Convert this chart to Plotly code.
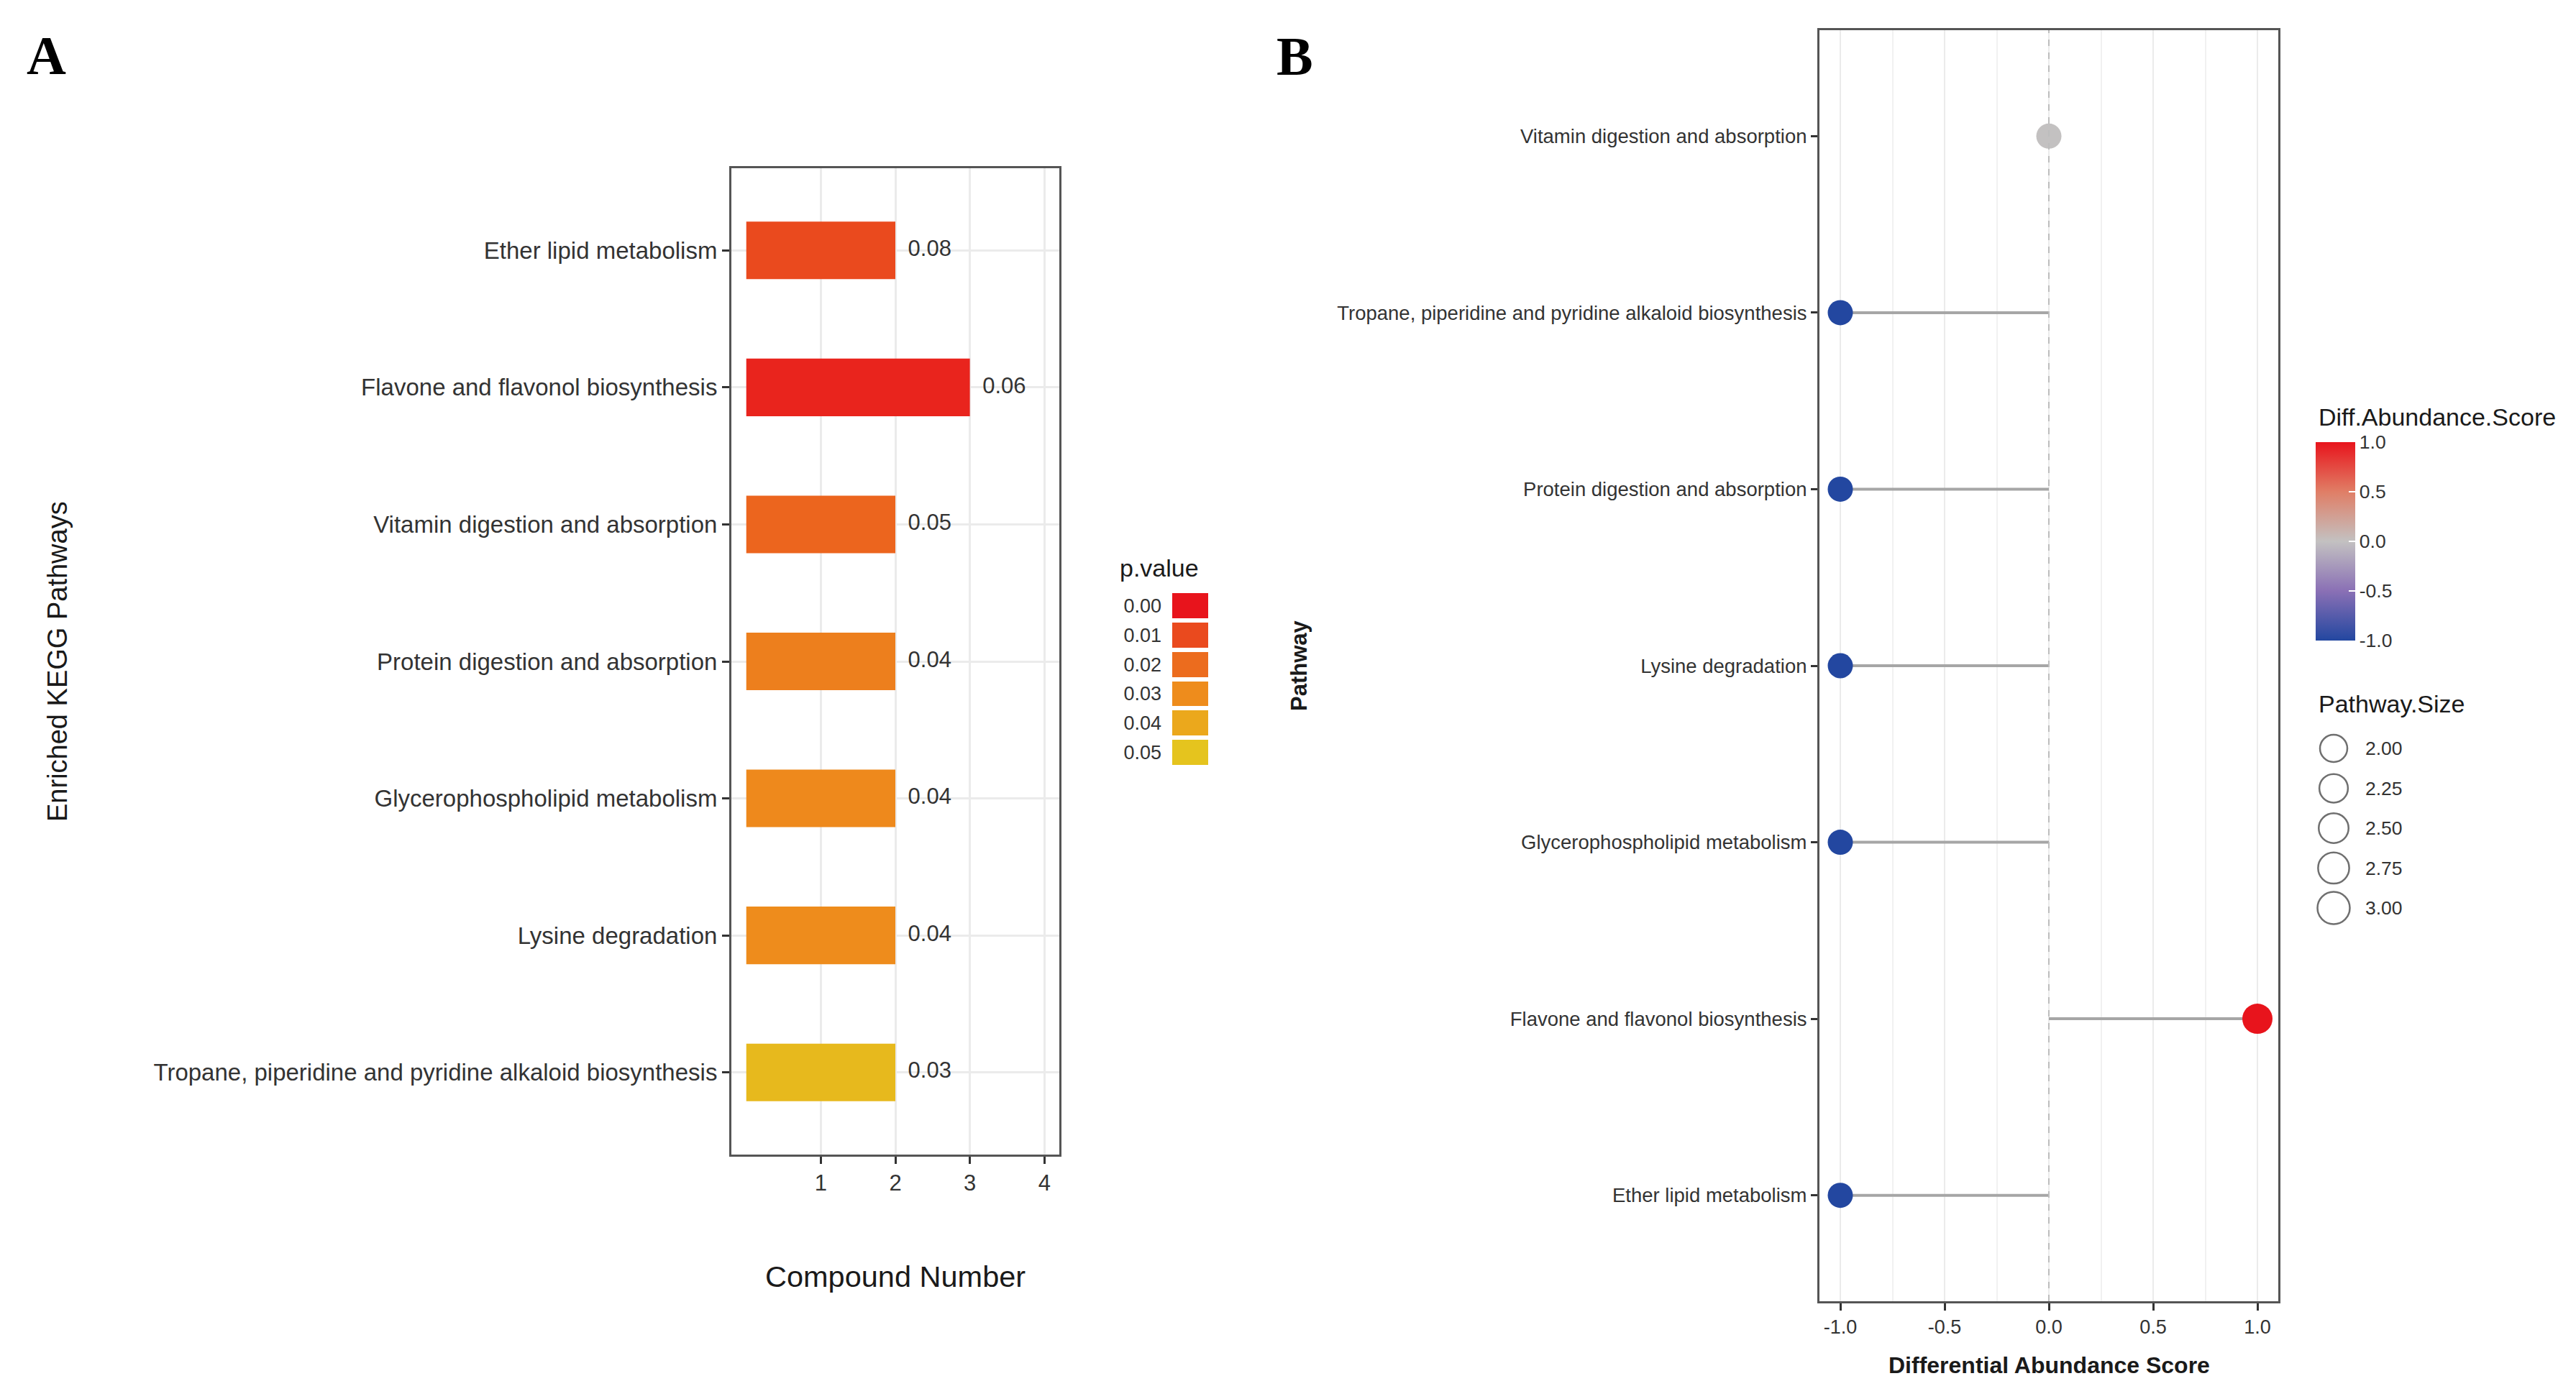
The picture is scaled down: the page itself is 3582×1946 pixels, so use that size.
import plotly.graph_objects as go

W, H = 3582, 1946

# ---------------- Panel A data (listed top -> bottom) ----------------
pathways_a = [
    "Ether lipid metabolism",
    "Flavone and flavonol biosynthesis",
    "Vitamin digestion and absorption",
    "Protein digestion and absorption",
    "Glycerophospholipid metabolism",
    "Lysine degradation",
    "Tropane, piperidine and pyridine alkaloid biosynthesis",
]
compound_number = [2, 3, 2, 2, 2, 2, 2]
ratio_labels = ["0.08", "0.06", "0.05", "0.04", "0.04", "0.04", "0.03"]
p_values = [0.010, 0.003, 0.018, 0.026, 0.029, 0.030, 0.046]
p_breaks = [0.00, 0.01, 0.02, 0.03, 0.04, 0.05]
p_break_labels = ["0.00", "0.01", "0.02", "0.03", "0.04", "0.05"]
x_ticks_a = [1, 2, 3, 4]

# ---------------- Panel B data (listed top -> bottom) ----------------
pathways_b = [
    "Vitamin digestion and absorption",
    "Tropane, piperidine and pyridine alkaloid biosynthesis",
    "Protein digestion and absorption",
    "Lysine degradation",
    "Glycerophospholipid metabolism",
    "Flavone and flavonol biosynthesis",
    "Ether lipid metabolism",
]
diff_score = [0, -1, -1, -1, -1, 1, -1]
pathway_size = [2, 2, 2, 2, 2, 3, 2]
size_breaks = [2.00, 2.25, 2.50, 2.75, 3.00]
size_break_labels = ["2.00", "2.25", "2.50", "2.75", "3.00"]
x_ticks_b = [-1.0, -0.5, 0.0, 0.5, 1.0]
x_tick_labels_b = ["-1.0", "-0.5", "0.0", "0.5", "1.0"]
x_minor_b = [-0.75, -0.25, 0.25, 0.75]
reference_line_b = 0.0
das_ticks = [-1.0, -0.5, 0.0, 0.5, 1.0]
das_tick_labels = ["-1.0", "-0.5", "0.0", "0.5", "1.0"]

# ---------------- styling ----------------
SANS = "Liberation Sans, Arial, Helvetica, sans-serif"
SERIF = "Liberation Serif, Times New Roman, serif"
TXT = "#333333"
GRID = "#EBEBEB"
BORDER = "#555555"

PVAL_SCALE = [
    [0.0, "#E8141C"], [0.2, "#EA4A1E"], [0.4, "#EC6C1E"],
    [0.6, "#EE8C1C"], [0.8, "#EBA81C"], [1.0, "#E5C41E"],
]
DAS_SCALE = [
    [0.0, "#2347A0"], [0.25, "#8A70B5"], [0.5, "#C3C1C1"],
    [0.75, "#E07E66"], [1.0, "#E8141C"],
]


def size_px(s):
    return 35 + 7 * (s - 2)


def px_x(a, b):
    return [a / W, b / W]


def px_y(top, bottom):
    return [1 - bottom / H, 1 - top / H]


fig = go.Figure()

# Panel A bars
fig.add_trace(go.Bar(
    x=compound_number, y=pathways_a, orientation="h", width=0.42,
    marker=dict(color=p_values, colorscale=PVAL_SCALE, cmin=0, cmax=0.05,
                line=dict(width=0), showscale=False),
    xaxis="x", yaxis="y", hoverinfo="skip",
))
fig.add_trace(go.Scatter(
    x=[v + 0.17 for v in compound_number], y=pathways_a, mode="text",
    text=ratio_labels, textposition="middle right",
    textfont=dict(family=SANS, size=31, color=TXT),
    xaxis="x", yaxis="y", hoverinfo="skip",
))

# Panel A legend (p.value keys)
fig.add_trace(go.Heatmap(
    x=[0], y=list(range(len(p_breaks))), z=[[b] for b in p_breaks],
    colorscale=PVAL_SCALE, zmin=0, zmax=0.05, showscale=False, ygap=6,
    xaxis="x3", yaxis="y3", hoverinfo="skip",
))

# Panel B dashed reference line at 0 (on an overlay y axis spanning the panel)
fig.add_trace(go.Scatter(
    x=[reference_line_b, reference_line_b], y=[0, 1], mode="lines",
    line=dict(color="#BDBDBD", width=2, dash="dash"),
    xaxis="x2", yaxis="y5", hoverinfo="skip",
))

# Panel B segments
seg_x, seg_y = [], []
for p, s in zip(pathways_b, diff_score):
    seg_x += [0, s, None]
    seg_y += [p, p, None]
fig.add_trace(go.Scatter(
    x=seg_x, y=seg_y, mode="lines", line=dict(color="#A6A6A6", width=4),
    xaxis="x2", yaxis="y2", hoverinfo="skip",
))

# Panel B dots
fig.add_trace(go.Scatter(
    x=diff_score, y=pathways_b, mode="markers",
    marker=dict(
        size=[size_px(s) for s in pathway_size], color=diff_score,
        colorscale=DAS_SCALE, cmin=-1, cmax=1, line=dict(width=0),
        opacity=1, showscale=True,
        colorbar=dict(
            x=3220 / W, xanchor="left", y=1 - 752.5 / H, yanchor="middle",
            len=276, lenmode="pixels", thickness=55, thicknessmode="pixels",
            outlinewidth=0, xpad=0, ypad=0,
            tickvals=das_ticks, ticktext=das_tick_labels,
            ticks="inside", tickcolor="white", ticklen=9, tickwidth=2,
            tickfont=dict(family=SANS, size=26.5, color=TXT),
        ),
    ),
    xaxis="x2", yaxis="y2", hoverinfo="skip",
))

# Panel B size legend
fig.add_trace(go.Scatter(
    x=[45] * len(size_breaks), y=list(range(len(size_breaks))), mode="markers",
    marker=dict(size=[size_px(s) + 3 for s in size_breaks], color="rgba(0,0,0,0)",
                line=dict(color="#333333", width=2.5)),
    xaxis="x4", yaxis="y4", hoverinfo="skip",
))

axis_common = dict(
    showline=True, linecolor=BORDER, linewidth=3, mirror=True,
    zeroline=False, ticks="outside", tickcolor="#333333", tickwidth=3,
)

fig.update_layout(
    width=W, height=H, margin=dict(l=0, r=0, t=0, b=0),
    paper_bgcolor="white", plot_bgcolor="white", showlegend=False,
    font=dict(family=SANS, color=TXT),
    xaxis=dict(
        domain=px_x(1017, 1473), anchor="y", range=[-0.2, 4.2],
        tickvals=x_ticks_a, ticklen=10,
        showgrid=True, gridcolor=GRID, gridwidth=3,
        tickfont=dict(family=SANS, size=31, color=TXT), **axis_common,
    ),
    yaxis=dict(
        domain=px_y(234, 1606), anchor="x", type="category",
        categoryorder="array", categoryarray=pathways_a[::-1],
        range=[-0.6, 6.6], ticklen=10,
        showgrid=True, gridcolor=GRID, gridwidth=3,
        tickfont=dict(family=SANS, size=33, color=TXT), **axis_common,
    ),
    xaxis2=dict(
        domain=px_x(2530, 3168), anchor="y2", range=[-1.1, 1.1],
        tickvals=x_ticks_b, ticktext=x_tick_labels_b, ticklen=10,
        showgrid=True, gridcolor=GRID, gridwidth=2,
        minor=dict(tickvals=x_minor_b, showgrid=True,
                   gridcolor="#F1F1F1", gridwidth=2, ticks=""),
        tickfont=dict(family=SANS, size=27, color=TXT), **axis_common,
    ),
    yaxis2=dict(
        domain=px_y(42, 1810), anchor="x2", type="category",
        categoryorder="array", categoryarray=pathways_b[::-1],
        range=[-0.6, 6.6], ticklen=9, showgrid=False,
        tickfont=dict(family=SANS, size=27.5, color=TXT), **axis_common,
    ),
    yaxis5=dict(overlaying="y2", anchor="x2", range=[0, 1], visible=False,
                fixedrange=True),
    xaxis3=dict(domain=px_x(1630, 1680), anchor="y3", range=[-0.5, 0.5],
                visible=False, fixedrange=True),
    yaxis3=dict(
        domain=px_y(822, 1067), anchor="x3", range=[5.5, -0.5],
        tickvals=list(range(len(p_breaks))), ticktext=p_break_labels,
        showgrid=False, zeroline=False, showline=False, ticks="",
        ticklabelstandoff=14,
        tickfont=dict(family=SANS, size=27, color=TXT),
    ),
    xaxis4=dict(domain=px_x(3200, 3272), anchor="y4", range=[0, 72],
                visible=False, fixedrange=True),
    yaxis4=dict(
        domain=px_y(1010.5, 1293.5), anchor="x4", range=[4.55, -0.55],
        side="right", tickvals=list(range(len(size_breaks))),
        ticktext=size_break_labels, showgrid=False, zeroline=False,
        showline=False, ticks="", ticklabelstandoff=16,
        tickfont=dict(family=SANS, size=26.5, color=TXT),
    ),
)

ann = [
    dict(text="A", x=64 / W, y=1 - 77 / H,
         font=dict(family=SERIF, size=76, color="black", weight="bold")),
    dict(text="B", x=1801 / W, y=1 - 78 / H,
         font=dict(family=SERIF, size=76, color="black", weight="bold")),
    dict(text="Enriched KEGG Pathways", x=80 / W, y=1 - 920 / H, textangle=-90,
         font=dict(family=SANS, size=38, color="#1A1A1A")),
    dict(text="Compound Number", x=1245 / W, y=1 - 1775 / H,
         font=dict(family=SANS, size=41.5, color="#1A1A1A")),
    dict(text="p.value", x=1555 / W, y=1 - 790 / H, xanchor="left",
         font=dict(family=SANS, size=34, color="#1A1A1A")),
    dict(text="Pathway", x=1806 / W, y=1 - 926 / H, textangle=-90,
         font=dict(family=SANS, size=31, color="#1A1A1A", weight="bold")),
    dict(text="Differential Abundance Score", x=2849 / W, y=1 - 1899 / H,
         font=dict(family=SANS, size=32, color="#1A1A1A", weight="bold")),
    dict(text="Diff.Abundance.Score", x=3222 / W, y=1 - 580 / H, xanchor="left",
         font=dict(family=SANS, size=34, color="#1A1A1A")),
    dict(text="Pathway.Size", x=3222 / W, y=1 - 979 / H, xanchor="left",
         font=dict(family=SANS, size=34, color="#1A1A1A")),
]
for a in ann:
    a.setdefault("xanchor", "center")
    a.update(xref="paper", yref="paper", yanchor="middle", showarrow=False)
fig.update_layout(annotations=ann)

fig.write_html(
    "out.html",
    config={"displayModeBar": False},
    post_script="document.body.style.margin='0';document.body.style.overflow='hidden';",
)
